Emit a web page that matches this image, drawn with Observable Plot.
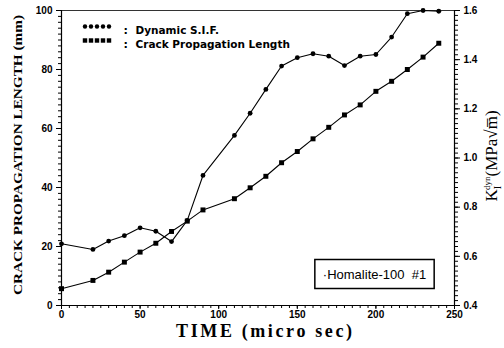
<!DOCTYPE html>
<html><head><meta charset="utf-8">
<script src="https://cdn.jsdelivr.net/npm/d3@7"></script>
<script src="https://cdn.jsdelivr.net/npm/@observablehq/plot@0.6"></script>
<style>html,body{margin:0;padding:0;background:#fff}</style>
</head><body><div id="chart"></div>
<script>
// ---- data ----
const time = [0, 20, 30, 40, 50, 60, 70, 80, 90, 110, 120, 130, 140, 150, 160, 170, 180, 190, 200, 210, 220, 230, 240];
const crackLength = [5.7, 8.5, 11.3, 14.7, 18.1, 21.1, 25.1, 28.6, 32.4, 36.2, 39.9, 43.8, 48.4, 52.2, 56.5, 60.4, 64.6, 68.0, 72.6, 76.0, 80.0, 84.2, 88.9];
const sif = [0.651, 0.628, 0.662, 0.684, 0.716, 0.702, 0.660, 0.746, 0.929, 1.092, 1.182, 1.279, 1.374, 1.408, 1.424, 1.414, 1.376, 1.414, 1.421, 1.492, 1.587, 1.600, 1.597];
const xTicks = [0, 50, 100, 150, 200, 250];
const yLeftTicks = [0, 20, 40, 60, 80, 100];
const yRightTicks = [0.4, 0.6, 0.8, 1.0, 1.2, 1.4, 1.6];
const legendLabels = ["Dynamic S.I.F.", "Crack Propagation Length"];
const legendSymbols = ["circle", "square"];
const boxLabel = "·Homalite-100  #1";
const xLabel = "TIME (micro sec)";
const yLabel = "CRACK PROPAGATION LENGTH (mm)";

// right axis (K) mapped onto the left (mm) scale
const kMin = 0.4, kMax = 1.6;
const kToMm = k => (k - kMin) / (kMax - kMin) * 100;
const mmToK = mm => kMin + mm * (kMax - kMin) / 100;

const crackData = time.map((t, i) => ({t, v: crackLength[i]}));
const sifData = time.map((t, i) => ({t, k: sif[i]}));

const sans = "'Liberation Sans', Arial, sans-serif";
const wideSans = "'DejaVu Sans', Verdana, sans-serif";
const serif = "'Liberation Serif', 'Times New Roman', serif";

const legendMarks = legendLabels.flatMap((label, i) => [
  ...d3.range(5).map(j => Plot.dot([label], {
    frameAnchor: "top-left", dx: 23.5 + j * 6, dy: 16 + i * 14,
    symbol: legendSymbols[i], r: legendSymbols[i] === "square" ? 2.5 : 2.2, fill: "black"
  })),
  Plot.text([":"], {frameAnchor: "top-left", dx: 62, dy: 16 + i * 14, text: d => d, textAnchor: "start", fontSize: 11, fontWeight: "bold", fontFamily: wideSans}),
  Plot.text([label], {frameAnchor: "top-left", dx: 74, dy: 16 + i * 14, text: d => d, textAnchor: "start", fontSize: 10.5, fontWeight: "bold", fontFamily: wideSans})
]);

const plot = Plot.plot({
  width: 504, height: 348,
  marginLeft: 61, marginRight: 50, marginTop: 10, marginBottom: 43,
  style: {fontFamily: sans, fontSize: "10px", fontWeight: "bold", background: "white", color: "black", overflow: "visible"},
  x: {domain: [0, 250]},
  y: {domain: [0, 100]},
  marks: [
    Plot.axisX({ticks: d3.range(0, 251, 5), tickSize: 3, text: null, label: null}),
    Plot.axisX({ticks: xTicks, tickSize: 4, tickPadding: 1, label: null, fontSize: 10}),
    Plot.axisY({ticks: d3.range(0, 101, 2), tickSize: 3, text: null, label: null}),
    Plot.axisY({ticks: yLeftTicks, tickSize: 5, tickPadding: 4, label: null, fontSize: 10}),
    Plot.axisY({anchor: "right", ticks: d3.range(0, 61).map(i => kToMm(kMin + i * 0.02)), tickSize: 3, text: null, label: null}),
    Plot.axisY({anchor: "right", ticks: yRightTicks.map(kToMm), tickFormat: d => mmToK(d).toFixed(1), tickSize: 5, tickPadding: 4, label: null, fontSize: 10}),
    Plot.ruleX([0, 250], {stroke: "black", strokeWidth: 1.2}),
    Plot.ruleY([0], {stroke: "black", strokeWidth: 1.2}),
    Plot.ruleY([100], {stroke: "black", strokeWidth: 1, strokeOpacity: 0.8}),
    Plot.line(sifData, {x: "t", y: d => kToMm(d.k), stroke: "black", strokeWidth: 1.1}),
    Plot.dot(sifData, {x: "t", y: d => kToMm(d.k), r: 2.4, fill: "black"}),
    Plot.line(crackData, {x: "t", y: "v", stroke: "black", strokeWidth: 1.1}),
    Plot.dot(crackData, {x: "t", y: "v", symbol: "square", r: 2.8, fill: "black"}),
    ...legendMarks,
    Plot.text([boxLabel], {frameAnchor: "bottom-right", dx: -80, dy: -27, text: d => d, textAnchor: "middle", fontSize: 13, fontWeight: "normal", fontFamily: sans, className: "boxlabel"}),
    Plot.text([xLabel], {frameAnchor: "bottom", dx: 6, dy: 31, text: d => d, textAnchor: "middle", fontSize: 18, fontWeight: "bold", fontFamily: serif, className: "xlabel"}),
    Plot.text([yLabel], {frameAnchor: "left", dx: -44, dy: -3, rotate: -90, text: d => d, textAnchor: "middle", fontSize: 13.5, fontWeight: "bold", fontFamily: serif, className: "ylabel"}),
    Plot.text(["K"], {frameAnchor: "right", dx: 37, dy: -2, rotate: -90, text: d => d, textAnchor: "middle", fontSize: 17, fontWeight: "normal", fontFamily: serif, className: "klabel"})
  ]
});
document.getElementById("chart").appendChild(plot);

// stretch axis titles to the reference's lengths
d3.select(plot).select("g.xlabel text").attr("textLength", 176).attr("lengthAdjust", "spacing");
d3.select(plot).select("g.ylabel text").attr("textLength", 280).attr("lengthAdjust", "spacingAndGlyphs");

// right-axis label with sub/superscripts
const kt = d3.select(plot).select("g.klabel text");
kt.text(null);
kt.append("tspan").text("K");
kt.append("tspan").attr("font-size", 10).attr("dy", 4).text("I");
kt.append("tspan").attr("font-size", 9).attr("dx", -4).attr("dy", -11).text("dyn");
kt.append("tspan").attr("dy", 7).text("(MPa√m̅)");

// box around the specimen label
const bt = d3.select(plot).select("g.boxlabel text");
const bb = bt.node().getBBox();
d3.select(bt.node().parentNode).insert("rect", "text")
  .attr("x", bb.x - 8).attr("y", bb.y - 7)
  .attr("width", bb.width + 16).attr("height", bb.height + 14)
  .attr("fill", "none").attr("stroke", "black").attr("stroke-width", 1.5)
  .attr("transform", bt.attr("transform"));
</script></body></html>
